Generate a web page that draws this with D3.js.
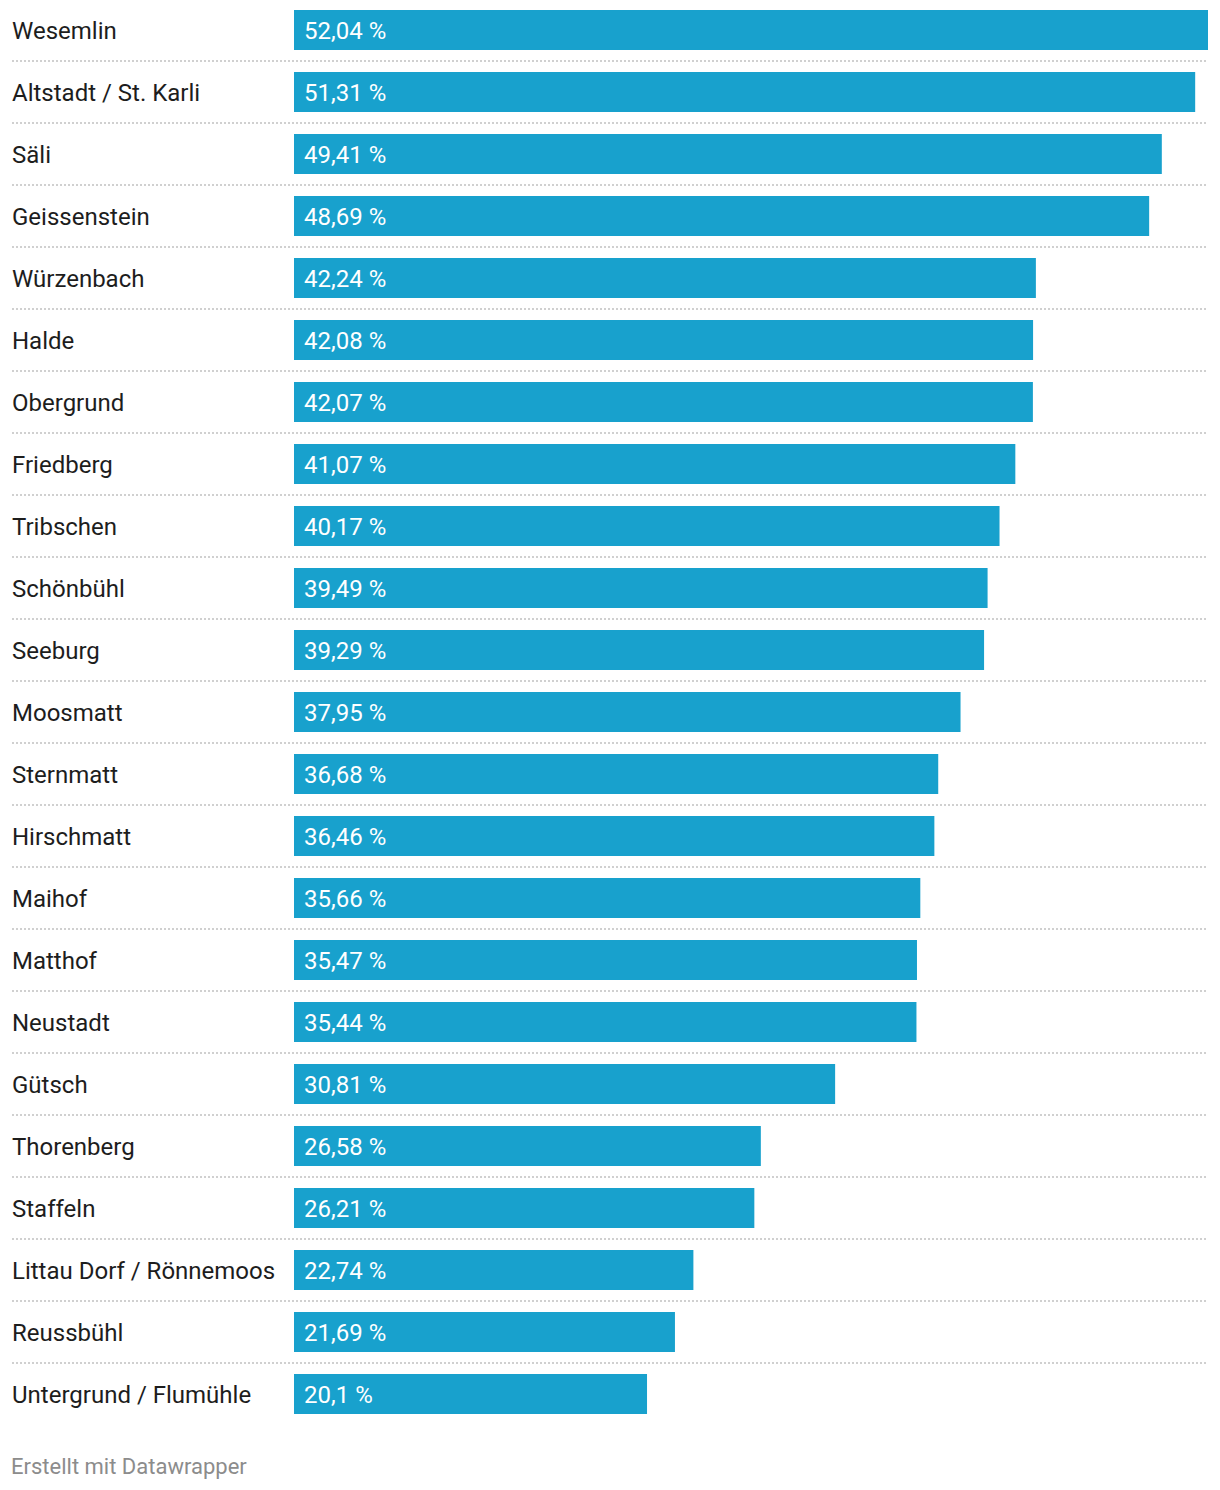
<!DOCTYPE html>
<html>
<head>
<meta charset="utf-8">
<script src="https://cdn.jsdelivr.net/npm/d3@7"></script>
<style>
  html, body { margin: 0; padding: 0; background: #fff; }
  svg { display: block; font-family: Roboto, "Noto Sans", sans-serif; }
</style>
</head>
<body>
<svg id="chart" width="1220" height="1490"></svg>
<script>
const categories = [
  "Wesemlin", "Altstadt / St. Karli", "Säli", "Geissenstein", "Würzenbach",
  "Halde", "Obergrund", "Friedberg", "Tribschen", "Schönbühl", "Seeburg",
  "Moosmatt", "Sternmatt", "Hirschmatt", "Maihof", "Matthof", "Neustadt",
  "Gütsch", "Thorenberg", "Staffeln", "Littau Dorf / Rönnemoos", "Reussbühl",
  "Untergrund / Flumühle"
];
const values = [
  52.04, 51.31, 49.41, 48.69, 42.24, 42.08, 42.07, 41.07, 40.17, 39.49, 39.29,
  37.95, 36.68, 36.46, 35.66, 35.47, 35.44, 30.81, 26.58, 26.21, 22.74, 21.69, 20.1
];
const valueLabels = [
  "52,04 %", "51,31 %", "49,41 %", "48,69 %", "42,24 %", "42,08 %", "42,07 %",
  "41,07 %", "40,17 %", "39,49 %", "39,29 %", "37,95 %", "36,68 %", "36,46 %",
  "35,66 %", "35,47 %", "35,44 %", "30,81 %", "26,58 %", "26,21 %", "22,74 %",
  "21,69 %", "20,1 %"
];
const footer = "Erstellt mit Datawrapper";

const rows = categories.map((c, i) => ({ name: c, value: values[i], label: valueLabels[i] }));

const svg = d3.select("#chart");
const barLeft = 294, barRight = 1208, labelLeft = 12;
const step = 62;
const padInner = 22 / 62;

const x = d3.scaleLinear().domain([0, d3.max(values)]).range([barLeft, barRight]);
const y = d3.scaleBand()
  .domain(categories)
  .range([-1, -1 + step * categories.length])
  .paddingInner(padInner)
  .paddingOuter(padInner / 2);

const g = svg.append("g");

// separators
g.selectAll("line.sep")
  .data(rows.slice(0, -1))
  .join("line")
  .attr("class", "sep")
  .attr("x1", labelLeft)
  .attr("x2", barRight)
  .attr("y1", d => y(d.name) + y.bandwidth() + 11)
  .attr("y2", d => y(d.name) + y.bandwidth() + 11)
  .attr("stroke", "#d0d0d0")
  .attr("stroke-width", 2)
  .attr("stroke-dasharray", "2,2");

// bars
g.selectAll("rect.bar")
  .data(rows)
  .join("rect")
  .attr("class", "bar")
  .attr("x", x(0))
  .attr("y", d => y(d.name))
  .attr("width", d => x(d.value) - x(0))
  .attr("height", y.bandwidth())
  .attr("fill", "#18a1cd");

// category labels
g.selectAll("text.cat")
  .data(rows)
  .join("text")
  .attr("class", "cat")
  .attr("x", labelLeft)
  .attr("y", d => y(d.name) + y.bandwidth() / 2 + 8.5)
  .attr("font-size", 24)
  .attr("fill", "#1d1d1d")
  .text(d => d.name);

// value labels
g.selectAll("text.val")
  .data(rows)
  .join("text")
  .attr("class", "val")
  .attr("x", x(0) + 10)
  .attr("y", d => y(d.name) + y.bandwidth() / 2 + 8.5)
  .attr("font-size", 24)
  .attr("fill", "#ffffff")
  .text(d => d.label);

svg.append("text")
  .attr("x", 11)
  .attr("y", 1474)
  .attr("font-size", 22)
  .attr("fill", "#8c8c8c")
  .text(footer);
</script>
</body>
</html>
